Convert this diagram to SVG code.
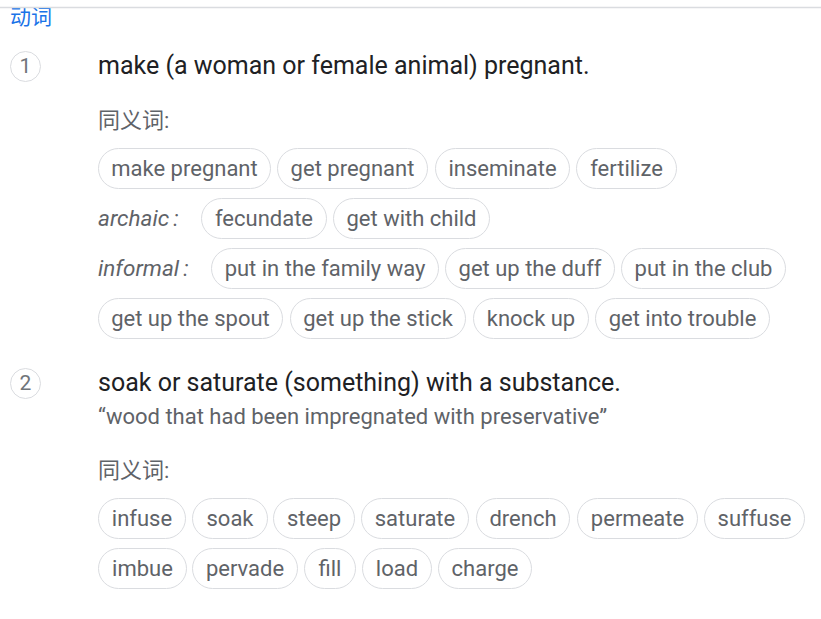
<svg xmlns="http://www.w3.org/2000/svg" width="821" height="619" viewBox="0 0 821 619">
<style>
text{font-family:Roboto,"Liberation Sans","Noto Sans CJK SC",sans-serif}
.chip rect{fill:#fff;stroke:#dadce0;stroke-width:1}
.chip text{font-size:22px;fill:#5f6368;text-anchor:middle}
.head{font-size:25px;fill:#202124}
.lab{font-size:22px;fill:#5f6368}
.it{font-size:22.5px;fill:#5f6368;font-style:italic}
.num circle{fill:#fff;stroke:#dadce0;stroke-width:1}
.num text{font-size:21px;fill:#70757a;text-anchor:middle}
</style>
<rect width="821" height="619" fill="#fff"/>
<text x="10" y="24" style="font-size:21px;fill:#1a73e8">动词</text>
<rect x="0" y="0" width="821" height="7" fill="#fff"/>
<line x1="0" y1="7.5" x2="821" y2="7.5" stroke="#dadce0" stroke-width="1.5"/>

<g id="sense1">
<g class="num" id="n1"><circle cx="25.5" cy="66.5" r="15"/><text x="25.5" y="72.5">1</text></g>
<text class="head" x="98" y="74">make (a woman or female animal) pregnant.</text>
<text class="lab" x="98" y="128">同义词:</text>
<g class="chip" id="c-make-pregnant"><rect x="98.5" y="148.5" width="172" height="40" rx="20"/><text x="184.5" y="176">make pregnant</text></g>
<g class="chip" id="c-get-pregnant"><rect x="277.5" y="148.5" width="150" height="40" rx="20"/><text x="352.5" y="176">get pregnant</text></g>
<g class="chip" id="c-inseminate"><rect x="435.5" y="148.5" width="134" height="40" rx="20"/><text x="502.5" y="176">inseminate</text></g>
<g class="chip" id="c-fertilize"><rect x="576.5" y="148.5" width="100" height="40" rx="20"/><text x="626.5" y="176">fertilize</text></g>
<text class="it" x="98" y="226">archaic<tspan dx="4">:</tspan></text>
<g class="chip" id="c-fecundate"><rect x="201.5" y="198.5" width="125" height="40" rx="20"/><text x="264" y="226">fecundate</text></g>
<g class="chip" id="c-get-with-child"><rect x="333.5" y="198.5" width="156" height="40" rx="20"/><text x="411.5" y="226">get with child</text></g>
<text class="it" x="98" y="276">informal<tspan dx="4">:</tspan></text>
<g class="chip" id="c-family-way"><rect x="211.5" y="248.5" width="227" height="40" rx="20"/><text x="325" y="276">put in the family way</text></g>
<g class="chip" id="c-duff"><rect x="445.5" y="248.5" width="169" height="40" rx="20"/><text x="530" y="276">get up the duff</text></g>
<g class="chip" id="c-club"><rect x="621.5" y="248.5" width="164" height="40" rx="20"/><text x="703.5" y="276">put in the club</text></g>
<g class="chip" id="c-spout"><rect x="98.5" y="298.5" width="184" height="40" rx="20"/><text x="190.5" y="326">get up the spout</text></g>
<g class="chip" id="c-stick"><rect x="290.5" y="298.5" width="175" height="40" rx="20"/><text x="378" y="326">get up the stick</text></g>
<g class="chip" id="c-knock-up"><rect x="473.5" y="298.5" width="115" height="40" rx="20"/><text x="531" y="326">knock up</text></g>
<g class="chip" id="c-trouble"><rect x="595.5" y="298.5" width="174" height="40" rx="20"/><text x="682.5" y="326">get into trouble</text></g>
</g>

<g id="sense2">
<g class="num" id="n2"><circle cx="25.5" cy="383.5" r="15"/><text x="25.5" y="389.5">2</text></g>
<text class="head" x="98" y="391">soak or saturate (something) with a substance.</text>
<text x="98" y="424" style="font-size:22px;fill:#5f6368">“wood that had been impregnated with preservative”</text>
<text class="lab" x="98" y="478">同义词:</text>
<g class="chip" id="c-infuse"><rect x="98.5" y="498.5" width="87" height="40" rx="20"/><text x="142" y="526">infuse</text></g>
<g class="chip" id="c-soak"><rect x="192.5" y="498.5" width="75" height="40" rx="20"/><text x="230" y="526">soak</text></g>
<g class="chip" id="c-steep"><rect x="273.5" y="498.5" width="81" height="40" rx="20"/><text x="314" y="526">steep</text></g>
<g class="chip" id="c-saturate"><rect x="361.5" y="498.5" width="107" height="40" rx="20"/><text x="415" y="526">saturate</text></g>
<g class="chip" id="c-drench"><rect x="476.5" y="498.5" width="93" height="40" rx="20"/><text x="523" y="526">drench</text></g>
<g class="chip" id="c-permeate"><rect x="577.5" y="498.5" width="120" height="40" rx="20"/><text x="637.5" y="526">permeate</text></g>
<g class="chip" id="c-suffuse"><rect x="704.5" y="498.5" width="100" height="40" rx="20"/><text x="754.5" y="526">suffuse</text></g>
<g class="chip" id="c-imbue"><rect x="98.5" y="548.5" width="88" height="40" rx="20"/><text x="142.5" y="576">imbue</text></g>
<g class="chip" id="c-pervade"><rect x="192.5" y="548.5" width="105" height="40" rx="20"/><text x="245" y="576">pervade</text></g>
<g class="chip" id="c-fill"><rect x="304.5" y="548.5" width="51" height="40" rx="20"/><text x="330" y="576">fill</text></g>
<g class="chip" id="c-load"><rect x="362.5" y="548.5" width="69" height="40" rx="20"/><text x="397" y="576">load</text></g>
<g class="chip" id="c-charge"><rect x="438.5" y="548.5" width="93" height="40" rx="20"/><text x="485" y="576">charge</text></g>
</g>
<g id="connectors"/>
</svg>
